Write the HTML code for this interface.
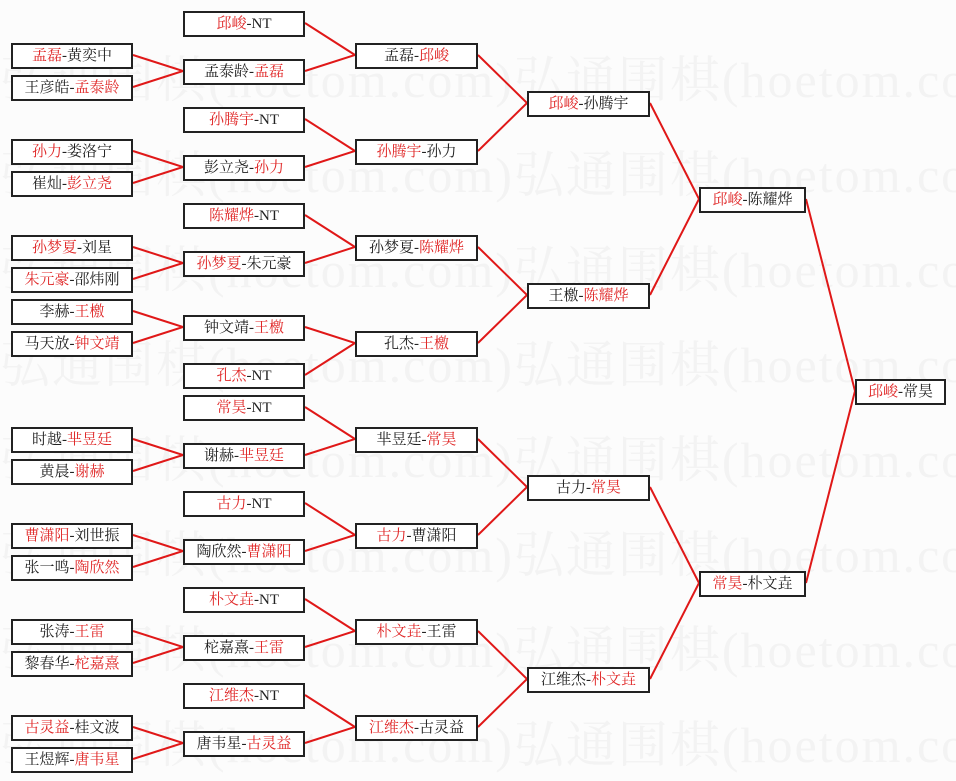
<!DOCTYPE html>
<html><head><meta charset="utf-8"><style>
body{margin:0;width:956px;height:781px;background:#fcfcfc;position:relative;overflow:hidden;font-family:"Liberation Serif","Noto Serif CJK SC","Noto Sans CJK SC",serif}
.wm{position:absolute;left:0;font-size:50px;color:#f3f3f3;white-space:nowrap;letter-spacing:2px}
.b{position:absolute;height:22px;border:2px solid #222;background:#fff;font-size:15px;line-height:23px;text-align:center;color:#222;box-sizing:content-box;white-space:nowrap}
.r{color:#e02828}
.c1{left:11px;width:118px}.c2{left:183px;width:118px}.c3{left:355px;width:119px}.c4{left:527px;width:119px}.c5{left:699px;width:103px}.c6{left:855px;width:87px}
svg{position:absolute;left:0;top:0}
</style></head><body>
<div class="wm" style="top:40px">弘通围棋(hoetom.com)弘通围棋(hoetom.com)</div>
<div class="wm" style="top:135px">弘通围棋(hoetom.com)弘通围棋(hoetom.com)</div>
<div class="wm" style="top:230px">弘通围棋(hoetom.com)弘通围棋(hoetom.com)</div>
<div class="wm" style="top:325px">弘通围棋(hoetom.com)弘通围棋(hoetom.com)</div>
<div class="wm" style="top:420px">弘通围棋(hoetom.com)弘通围棋(hoetom.com)</div>
<div class="wm" style="top:515px">弘通围棋(hoetom.com)弘通围棋(hoetom.com)</div>
<div class="wm" style="top:610px">弘通围棋(hoetom.com)弘通围棋(hoetom.com)</div>
<div class="wm" style="top:705px">弘通围棋(hoetom.com)弘通围棋(hoetom.com)</div>
<svg width="956" height="781" stroke="#e01818" stroke-width="2" fill="none">
<path d="M133 55L183 71L133 87 M133 151L183 167L133 183 M133 247L183 263L133 279 M133 311L183 327L133 343 M133 439L183 455L133 471 M133 535L183 551L133 567 M133 631L183 647L133 663 M133 727L183 743L133 759"/>
<path d="M305 23L355 55L305 71 M305 119L355 151L305 167 M305 215L355 247L305 263 M305 327L355 343L305 375 M305 407L355 439L305 455 M305 503L355 535L305 551 M305 599L355 631L305 647 M305 695L355 727L305 743"/>
<path d="M478 55L527 103L478 151 M478 247L527 295L478 343 M478 439L527 487L478 535 M478 631L527 679L478 727"/>
<path d="M650 103L699 199L650 295 M650 487L699 583L650 679"/>
<path d="M806 199L855 391L806 583"/>
</svg>
<div class="b c1" style="top:43px"><span class="r">孟磊</span>-黄奕中</div>
<div class="b c1" style="top:75px">王彦皓-<span class="r">孟泰龄</span></div>
<div class="b c1" style="top:139px"><span class="r">孙力</span>-娄洛宁</div>
<div class="b c1" style="top:171px">崔灿-<span class="r">彭立尧</span></div>
<div class="b c1" style="top:235px"><span class="r">孙梦夏</span>-刘星</div>
<div class="b c1" style="top:267px"><span class="r">朱元豪</span>-邵炜刚</div>
<div class="b c1" style="top:299px">李赫-<span class="r">王檄</span></div>
<div class="b c1" style="top:331px">马天放-<span class="r">钟文靖</span></div>
<div class="b c1" style="top:427px">时越-<span class="r">芈昱廷</span></div>
<div class="b c1" style="top:459px">黄晨-<span class="r">谢赫</span></div>
<div class="b c1" style="top:523px"><span class="r">曹潇阳</span>-刘世振</div>
<div class="b c1" style="top:555px">张一鸣-<span class="r">陶欣然</span></div>
<div class="b c1" style="top:619px">张涛-<span class="r">王雷</span></div>
<div class="b c1" style="top:651px">黎春华-<span class="r">柁嘉熹</span></div>
<div class="b c1" style="top:715px"><span class="r">古灵益</span>-桂文波</div>
<div class="b c1" style="top:747px">王煜辉-<span class="r">唐韦星</span></div>

<div class="b c2" style="top:11px"><span class="r">邱峻</span>-NT</div>
<div class="b c2" style="top:59px">孟泰龄-<span class="r">孟磊</span></div>
<div class="b c2" style="top:107px"><span class="r">孙腾宇</span>-NT</div>
<div class="b c2" style="top:155px">彭立尧-<span class="r">孙力</span></div>
<div class="b c2" style="top:203px"><span class="r">陈耀烨</span>-NT</div>
<div class="b c2" style="top:251px"><span class="r">孙梦夏</span>-朱元豪</div>
<div class="b c2" style="top:315px">钟文靖-<span class="r">王檄</span></div>
<div class="b c2" style="top:363px"><span class="r">孔杰</span>-NT</div>
<div class="b c2" style="top:395px"><span class="r">常昊</span>-NT</div>
<div class="b c2" style="top:443px">谢赫-<span class="r">芈昱廷</span></div>
<div class="b c2" style="top:491px"><span class="r">古力</span>-NT</div>
<div class="b c2" style="top:539px">陶欣然-<span class="r">曹潇阳</span></div>
<div class="b c2" style="top:587px"><span class="r">朴文垚</span>-NT</div>
<div class="b c2" style="top:635px">柁嘉熹-<span class="r">王雷</span></div>
<div class="b c2" style="top:683px"><span class="r">江维杰</span>-NT</div>
<div class="b c2" style="top:731px">唐韦星-<span class="r">古灵益</span></div>

<div class="b c3" style="top:43px">孟磊-<span class="r">邱峻</span></div>
<div class="b c3" style="top:139px"><span class="r">孙腾宇</span>-孙力</div>
<div class="b c3" style="top:235px">孙梦夏-<span class="r">陈耀烨</span></div>
<div class="b c3" style="top:331px">孔杰-<span class="r">王檄</span></div>
<div class="b c3" style="top:427px">芈昱廷-<span class="r">常昊</span></div>
<div class="b c3" style="top:523px"><span class="r">古力</span>-曹潇阳</div>
<div class="b c3" style="top:619px"><span class="r">朴文垚</span>-王雷</div>
<div class="b c3" style="top:715px"><span class="r">江维杰</span>-古灵益</div>

<div class="b c4" style="top:91px"><span class="r">邱峻</span>-孙腾宇</div>
<div class="b c4" style="top:283px">王檄-<span class="r">陈耀烨</span></div>
<div class="b c4" style="top:475px">古力-<span class="r">常昊</span></div>
<div class="b c4" style="top:667px">江维杰-<span class="r">朴文垚</span></div>

<div class="b c5" style="top:187px"><span class="r">邱峻</span>-陈耀烨</div>
<div class="b c5" style="top:571px"><span class="r">常昊</span>-朴文垚</div>

<div class="b c6" style="top:379px"><span class="r">邱峻</span>-常昊</div>
</body></html>
